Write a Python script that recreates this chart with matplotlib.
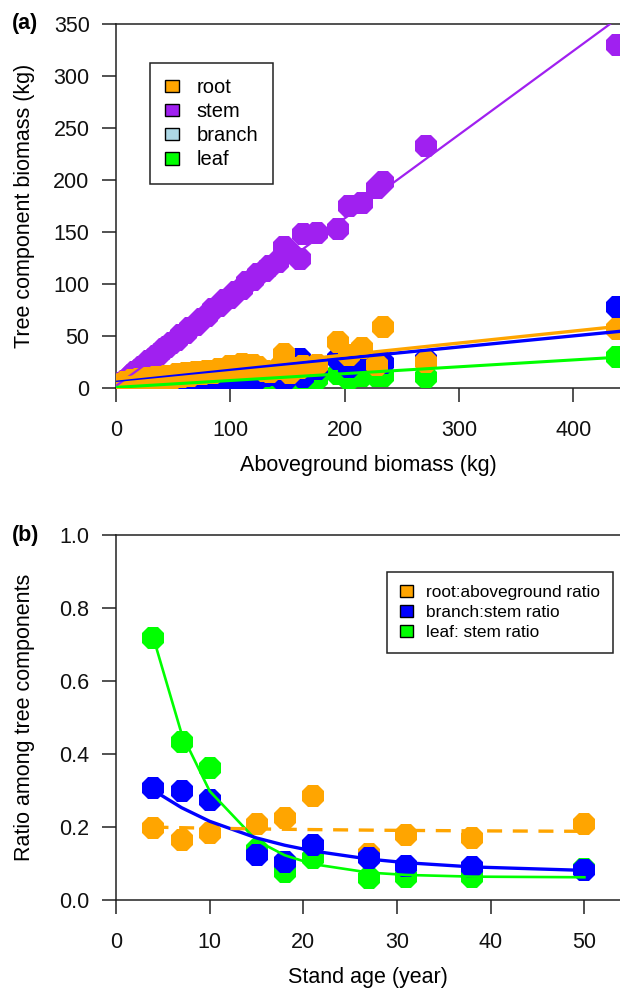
import numpy as np
import matplotlib
matplotlib.use("Agg")
import matplotlib.pyplot as plt
from matplotlib.patches import Patch
from matplotlib.ticker import FormatStrFormatter

plt.rcParams['font.family'] = ['Liberation Sans', 'DejaVu Sans']

# ---- panel (a): tree components vs aboveground biomass (kg) ----
aboveground = [5, 8, 11, 14, 17, 20, 23, 26, 29, 32, 35, 38, 42, 45, 49, 53, 57, 61, 65, 70,
               75, 80, 85, 90, 95, 100, 105, 110, 115, 120, 124, 130, 135, 142, 147, 152, 161,
               164, 176, 194, 204, 215, 228, 234, 271, 438]
stem = [4.4, 7.0, 9.8, 12.3, 15.2, 17.4, 20.6, 22.3, 25.8, 28.0, 31.2, 32.9, 37.5, 39.0, 43.6,
        46.2, 50.8, 52.9, 58.0, 60.6, 66.8, 69.5, 75.6, 78.4, 84.5, 87.0, 92.5, 95.2, 101.5,
        104.0, 110.0, 112.5, 117.0, 121.0, 136.0, 130.0, 124.0, 148.0, 149.0, 153.0, 175.0,
        178.0, 192.0, 198.0, 233.0, 330.0]
branch = [0.3, 0.5, 0.6, 0.9, 1.0, 1.4, 1.3, 2.2, 1.8, 2.4, 2.2, 3.3, 2.9, 3.9, 3.4, 4.5, 3.9,
          5.4, 4.5, 6.3, 5.5, 7.3, 6.3, 7.9, 6.9, 8.7, 8.5, 9.9, 9.0, 10.6, 9.3, 11.8, 12.2,
          14.0, 7.0, 15.0, 28.0, 11.0, 18.0, 28.0, 20.0, 25.0, 24.0, 24.0, 27.0, 78.0]
leaf = [0.3, 0.5, 0.6, 0.8, 0.8, 1.2, 1.1, 1.5, 1.4, 1.6, 1.6, 1.8, 1.6, 2.1, 2.0, 2.3, 2.3,
        2.7, 2.5, 3.1, 2.7, 3.2, 3.1, 3.7, 3.6, 4.3, 4.0, 4.9, 4.5, 5.4, 4.7, 5.7, 5.8, 7.0,
        4.0, 7.0, 9.0, 5.0, 9.0, 13.0, 9.0, 12.0, 12.0, 12.0, 11.0, 30.0]
root = [4, 6, 5, 8, 7, 9, 6, 10, 8, 9, 11, 8, 10, 12, 9, 13, 11, 14, 12, 15, 13, 16, 14, 18,
        16, 21, 19, 23, 18, 22, 20, 16, 15, 18, 33, 14, 19, 21, 22, 44, 32, 38, 22, 59, 25, 57]

# linear fits (intercept, slope)
fit_intercept = {'root': 8.7, 'stem': 2.0, 'branch': 7.3, 'leaf': 0.6}
fit_slope = {'root': 0.115, 'stem': 0.805, 'branch': 0.107, 'leaf': 0.066}

# ---- panel (b): ratios vs stand age ----
stand_age = [4, 7, 10, 15, 18, 21, 27, 31, 38, 50]
root_ag_ratio = [0.196, 0.164, 0.184, 0.208, 0.224, 0.285, 0.125, 0.178, 0.169, 0.208]
branch_stem_ratio = [0.306, 0.298, 0.274, 0.123, 0.105, 0.151, 0.114, 0.094, 0.090, 0.082]
leaf_stem_ratio = [0.717, 0.434, 0.361, 0.137, 0.078, 0.114, 0.059, 0.064, 0.064, 0.085]

# exponential fits y = a + b*exp(-c*age)
ratio_fit = {'root': (0.186, 0.016, 0.04),
             'branch': (0.075, 0.308, 0.0784),
             'leaf': (0.062, 1.294, 0.17)}

ORANGE = '#FFA500'
PURPLE = '#A020F0'
BLUE = '#0000FF'
GREEN = '#00FF00'
LIGHTBLUE = '#ADD8E6'
AXCOL = '#222222'
FS = 15.5
MS = 17

W, H = 620, 992
fig = plt.figure(figsize=(W / 100, H / 100), dpi=100)
ax_a = fig.add_axes([116 / W, 1 - 388 / H, 1 - 116 / W, (388 - 24) / H])
ax_b = fig.add_axes([116 / W, 1 - 900 / H, 1 - 116 / W, (900 - 535) / H])


def style_axes(ax):
    for s in ['left', 'bottom', 'top']:
        ax.spines[s].set_color(AXCOL)
        ax.spines[s].set_linewidth(1.1)
    ax.spines['right'].set_visible(False)
    ax.tick_params(direction='out', length=10, width=1.1, color=AXCOL, labelsize=FS,
                   labelcolor='#111111')
    ax.tick_params(axis='x', pad=13)
    ax.tick_params(axis='y', pad=9)
    ax.yaxis.set_label_coords(-0.160, 0.5)


def pts(ax, x, y, color, z):
    ax.plot(x, y, ls='none', marker='8', ms=MS, mew=0, color=color, zorder=z)


# panel (a)
pts(ax_a, aboveground, stem, PURPLE, 3)
pts(ax_a, aboveground, leaf, GREEN, 4)
pts(ax_a, aboveground, branch, BLUE, 5)
pts(ax_a, aboveground, root, ORANGE, 6)
for name, col, lw in [('stem', PURPLE, 1.6), ('leaf', GREEN, 2.2),
                      ('branch', BLUE, 2.4), ('root', ORANGE, 2.4)]:
    ax_a.axline((0, fit_intercept[name]), slope=fit_slope[name], color=col, lw=lw, zorder=7)

ax_a.set_xlim(0, 441)
ax_a.set_ylim(0, 350)
ax_a.set_xticks(np.arange(0, 401, 100))
ax_a.set_yticks(np.arange(0, 351, 50))
style_axes(ax_a)
ax_a.set_xlabel('Aboveground biomass (kg)', fontsize=FS, labelpad=10)
ax_a.set_ylabel('Tree component biomass (kg)', fontsize=FS)

hand_a = [Patch(facecolor=c, edgecolor='black', lw=1.0) for c in [ORANGE, PURPLE, LIGHTBLUE, GREEN]]
leg_a = ax_a.legend(hand_a, ['root', 'stem', 'branch', 'leaf'], loc='upper left',
                    bbox_to_anchor=(150 / W, 1 - 63 / H), bbox_transform=fig.transFigure,
                    borderaxespad=0, fontsize=14.5, frameon=True, fancybox=False,
                    edgecolor='#222222', framealpha=1, handlelength=0.7, handleheight=0.6,
                    handletextpad=0.85, labelspacing=0.25, borderpad=0.75)
leg_a.get_frame().set_linewidth(1.1)

# panel (b)
age = np.array(stand_age)
pts(ax_b, stand_age, root_ag_ratio, ORANGE, 3)
pts(ax_b, stand_age, leaf_stem_ratio, GREEN, 4)
pts(ax_b, stand_age, branch_stem_ratio, BLUE, 5)
a, b, c = ratio_fit['leaf']
ax_b.plot(age, a + b * np.exp(-c * age), color=GREEN, lw=1.9, zorder=6)
a, b, c = ratio_fit['branch']
ax_b.plot(age, a + b * np.exp(-c * age), color=BLUE, lw=2.4, zorder=7)
a, b, c = ratio_fit['root']
ax_b.plot(age, a + b * np.exp(-c * age), color=ORANGE, lw=2.4, dashes=(4.5, 3.2), zorder=8)

ax_b.set_xlim(0, 53.8)
ax_b.set_ylim(0, 1)
ax_b.set_xticks(np.arange(0, 51, 10))
ax_b.set_yticks(np.arange(0, 1.01, 0.2))
ax_b.yaxis.set_major_formatter(FormatStrFormatter('%.1f'))
style_axes(ax_b)
ax_b.set_xlabel('Stand age (year)', fontsize=FS, labelpad=10)
ax_b.set_ylabel('Ratio among tree components', fontsize=FS)

hand_b = [Patch(facecolor=c, edgecolor='black', lw=1.0) for c in [ORANGE, BLUE, GREEN]]
leg_b = ax_b.legend(hand_b, ['root:aboveground ratio', 'branch:stem ratio', 'leaf: stem ratio'],
                    loc='upper left', bbox_to_anchor=(387 / W, 1 - 572 / H),
                    bbox_transform=fig.transFigure, borderaxespad=0, fontsize=12.4,
                    frameon=True, fancybox=False, edgecolor='#222222', framealpha=1,
                    handlelength=0.75, handleheight=0.65, handletextpad=0.75,
                    labelspacing=0.3, borderpad=0.75)
leg_b.get_frame().set_linewidth(1.1)

fig.text(12 / W, 1 - 24 / H, '(a)', fontsize=FS, fontweight='bold', ha='left', va='center')
fig.text(12 / W, 1 - 535 / H, '(b)', fontsize=FS, fontweight='bold', ha='left', va='center')

fig.savefig('out.png', dpi=100)
